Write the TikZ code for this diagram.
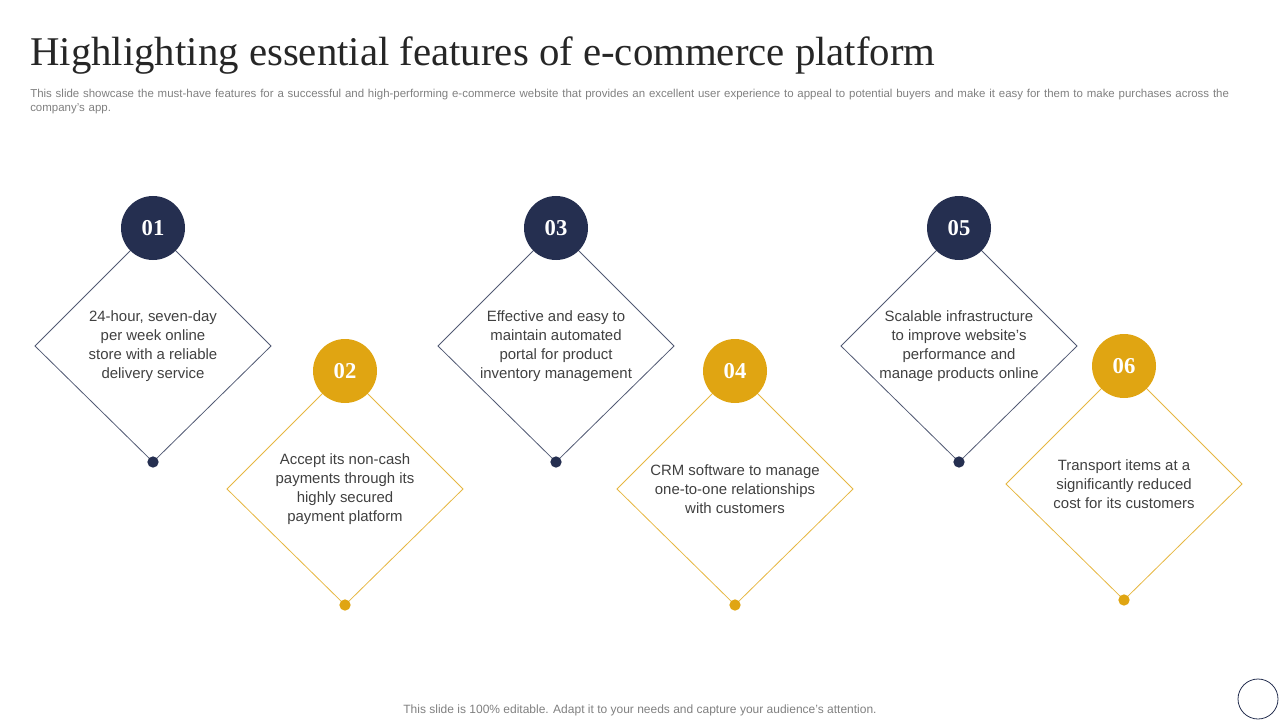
\documentclass[tikz,border=0pt]{standalone}
\usepackage{fontspec}
\setmainfont{Liberation Sans}
\newfontfamily\titlefont{Liberation Serif}
\begin{document}
\begin{tikzpicture}[x=0.75pt,y=-0.75pt]
\definecolor{navy}{HTML}{252F50}
\definecolor{gold}{HTML}{E0A512}
\definecolor{txt}{HTML}{404040}
\tikzset{
 dot/.style={circle,fill=#1,minimum size=8.5,inner sep=0pt},
 body/.style={align=center,text=txt,font=\fontsize{11.2}{14.2}\selectfont},
}
\useasboundingbox (0,0) rectangle (1280,720);
\node[anchor=west,font=\titlefont\fontsize{30.6}{32}\selectfont,text=black!85,inner sep=0pt] (title) at (30,56) {Highlighting essential features of e-commerce platform};
\node[anchor=north west,align=left,text width=1222*0.75pt,text=gray,font=\fontsize{8.6}{10.5}\selectfont,inner sep=0pt] (sub) at (30,89) {This slide showcase the must-have features for a successful and high-performing e-commerce website that provides an excellent user experience to appeal to potential buyers and make it easy for them to make purchases across the company's app.};
\foreach \n/\cx/\cy/\col/\t in {
 1/153/346/navy/{24-hour, seven-day\\per week online\\store with a reliable\\delivery service},
 2/345/489/gold/{Accept its non-cash\\payments through its\\highly secured\\payment platform},
 3/556/346/navy/{Effective and easy to\\maintain automated\\portal for product\\inventory  management},
 4/735/489/gold/{CRM software to manage\\one-to-one relationships\\with customers},
 5/959/346/navy/{Scalable infrastructure\\to improve website's\\performance and\\manage products online},
 6/1124/484/gold/{Transport items at a\\significantly reduced\\cost for its customers}}{
 \draw[draw=\col!80,line width=0.6pt] (\cx,\cy-118) -- (\cx+118,\cy) -- (\cx,\cy+116) -- (\cx-118,\cy) -- cycle;
 \node[dot=\col] (d\n) at (\cx,\cy+116) {};
 \node[circle,fill=\col,minimum size=48pt,inner sep=0pt,text=white,font=\titlefont\fontsize{17}{17}\selectfont\bfseries] (c\n) at (\cx,\cy-118) {0\n};
 \node[body] (t\n) at (\cx,\cy) {\t};
}
\node[text=gray,font=\fontsize{9}{11}\selectfont] (foot) at (640,710) {This slide is 100\% editable. Adapt it to your needs and capture your audience's attention.};
\draw[navy,line width=0.6pt] (1258,699) circle (20);
\end{tikzpicture}
\end{document}
